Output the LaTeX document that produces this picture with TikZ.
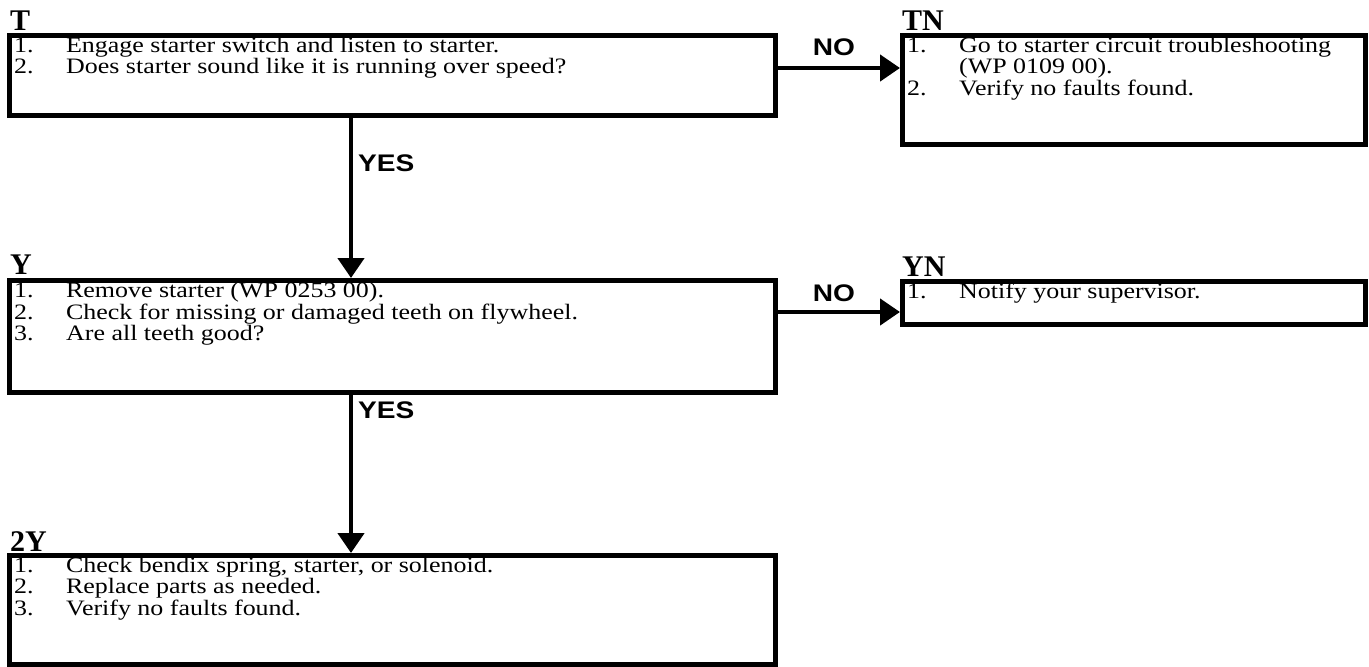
\documentclass[tikz,border=0pt]{standalone}
\usepackage{fontspec}
\usepackage{graphicx}
\setmainfont{Liberation Serif}
\newfontfamily\lblfont{Liberation Sans}
\usetikzlibrary{arrows.meta}
\newcommand\itm[2]{\makebox[44pt][l]{#1}#2}
\newcommand\bodyfont{\fontsize{22}{21.8}\selectfont}
\newcommand\steplist[1]{\scalebox{1.18}[1]{\begin{tabular}[t]{@{}l@{}}#1\end{tabular}}}
\tikzset{
  stepbox/.style={draw, line width=5pt, rectangle, inner sep=0pt, anchor=north west},
  flow/.style={line width=4.5pt, -{Triangle[length=20pt,width=26pt]}},
  steptext/.style={anchor=base west, inner sep=0pt, font=\bodyfont},
  boxlabel/.style={anchor=base west, inner sep=0pt, font=\fontsize{30}{30}\selectfont\bfseries},
  answer/.style={inner sep=0pt, font=\lblfont\bfseries\fontsize{24}{24}\selectfont}
}
\begin{document}
\begin{tikzpicture}[x=1pt,y=-1pt]
\useasboundingbox (0,0) rectangle (1369,667);
% boxes
\node[stepbox, minimum width=766pt, minimum height=80pt]  (T)  at (7,33) {};
\node[stepbox, minimum width=463pt, minimum height=109pt] (TN) at (900,33) {};
\node[stepbox, minimum width=766pt, minimum height=112pt] (Y)  at (7,278) {};
\node[stepbox, minimum width=463pt, minimum height=43pt]  (YN) at (900,279) {};
\node[stepbox, minimum width=766pt, minimum height=109pt] (YY) at (7,553) {};
% box labels
\node[boxlabel] (Tl)  at (10,30) {T};
\node[boxlabel] (TNl) at (902,30) {TN};
\node[boxlabel] (Yl)  at (10,274) {Y};
\node[boxlabel] (YNl) at (902,276) {YN};
\node[boxlabel] (YYl) at (10,551) {2Y};
% texts
\node[steptext] (Tt) at (14,52) {\steplist{%
\itm{1.}{Engage starter switch and listen to starter.}\\
\itm{2.}{Does starter sound like it is running over speed?}}};
\node[steptext] (TNt) at (907,52) {\steplist{%
\itm{1.}{Go to starter circuit troubleshooting}\\
\itm{}{(WP 0109 00).}\\
\itm{2.}{Verify no faults found.}}};
\node[steptext] (Yt) at (14,297) {\steplist{%
\itm{1.}{Remove starter (WP 0253 00).}\\
\itm{2.}{Check for missing or damaged teeth on flywheel.}\\
\itm{3.}{Are all teeth good?}}};
\node[steptext] (YNt) at (907,298) {\steplist{%
\itm{1.}{Notify your supervisor.}}};
\node[steptext] (YYt) at (14,572) {\steplist{%
\itm{1.}{Check bendix spring, starter, or solenoid.}\\
\itm{2.}{Replace parts as needed.}\\
\itm{3.}{Verify no faults found.}}};
% connectors
\draw[flow] ([yshift=7.5pt]T.east) -- ([yshift=7.5pt]T.east -| TN.west);
\draw[flow] ([yshift=24.5pt]Y.east) -- ([yshift=24.5pt]Y.east -| YN.west);
\draw[flow] ([xshift=-41.5pt]T.south) -- ([xshift=-41.5pt]T.south |- Y.north);
\draw[flow] ([xshift=-41.5pt]Y.south) -- ([xshift=-41.5pt]Y.south |- YY.north);
% answer labels
\node[answer] (no1)  at (834,47)  {\scalebox{1.17}[1]{NO}};
\node[answer] (no2)  at (834,293) {\scalebox{1.17}[1]{NO}};
\node[answer, anchor=west] (yes1) at (358,163) {\scalebox{1.17}[1]{YES}};
\node[answer, anchor=west] (yes2) at (358,410) {\scalebox{1.17}[1]{YES}};
\end{tikzpicture}
\end{document}
